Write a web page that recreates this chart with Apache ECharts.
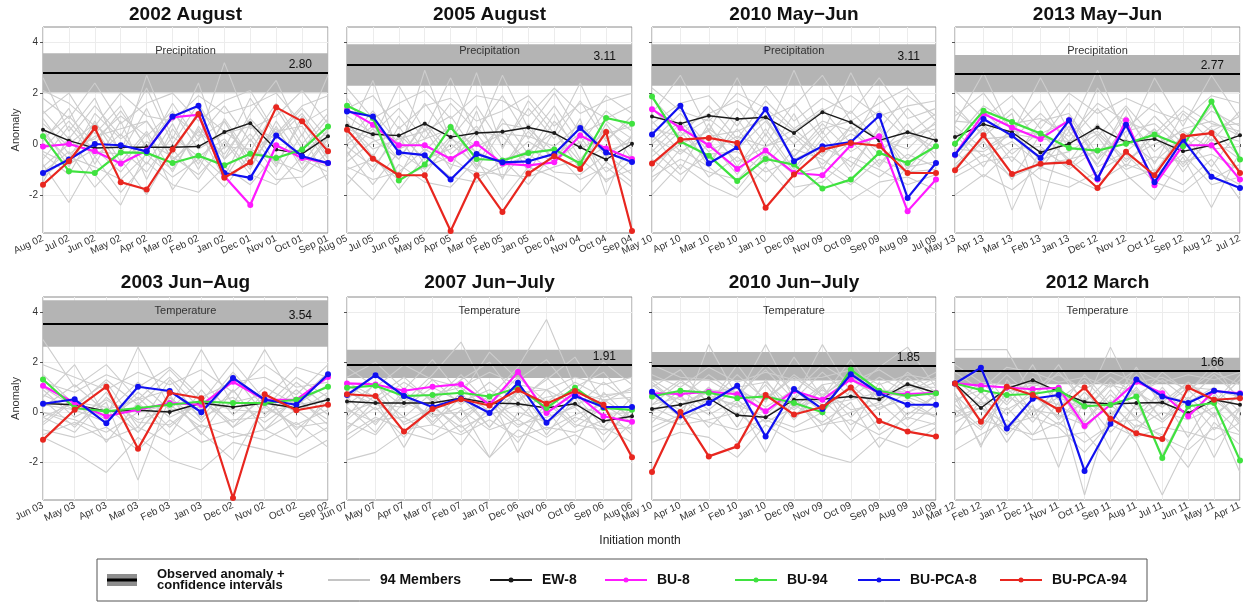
<!DOCTYPE html>
<html>
<head>
<meta charset="utf-8">
<script src="https://cdn.jsdelivr.net/npm/echarts@6/dist/echarts.min.js"></script>
<style>
  html, body { margin: 0; padding: 0; background: #ffffff; }
  #chart { width: 1253px; height: 605px; }
</style>
</head>
<body>
<div id="chart"></div>
<script>
// ---- data ----
const panelTitles = ['2002 August', '2005 August', '2010 May\u2212Jun', '2013 May\u2212Jun',
                     '2003 Jun\u2212Aug', '2007 Jun\u2212July', '2010 Jun\u2212July', '2012 March'];
const variableNames = ['Precipitation', 'Precipitation', 'Precipitation', 'Precipitation',
                       'Temperature', 'Temperature', 'Temperature', 'Temperature'];
const initMonths = [
  ['Aug 02','Jul 02','Jun 02','May 02','Apr 02','Mar 02','Feb 02','Jan 02','Dec 01','Nov 01','Oct 01','Sep 01'],
  ['Aug 05','Jul 05','Jun 05','May 05','Apr 05','Mar 05','Feb 05','Jan 05','Dec 04','Nov 04','Oct 04','Sep 04'],
  ['May 10','Apr 10','Mar 10','Feb 10','Jan 10','Dec 09','Nov 09','Oct 09','Sep 09','Aug 09','Jul 09'],
  ['May 13','Apr 13','Mar 13','Feb 13','Jan 13','Dec 12','Nov 12','Oct 12','Sep 12','Aug 12','Jul 12'],
  ['Jun 03','May 03','Apr 03','Mar 03','Feb 03','Jan 03','Dec 02','Nov 02','Oct 02','Sep 02'],
  ['Jun 07','May 07','Apr 07','Mar 07','Feb 07','Jan 07','Dec 06','Nov 06','Oct 06','Sep 06','Aug 06'],
  ['May 10','Apr 10','Mar 10','Feb 10','Jan 10','Dec 09','Nov 09','Oct 09','Sep 09','Aug 09','Jul 09'],
  ['Mar 12','Feb 12','Jan 12','Dec 11','Nov 11','Oct 11','Sep 11','Aug 11','Jul 11','Jun 11','May 11','Apr 11']
];
const yTickValues = [-2, 0, 2, 4];

// observed anomaly and its confidence interval
const observed = [2.80, 3.11, 3.11, 2.77, 3.54, 1.91, 1.85, 1.66];
const ciLow    = [2.02, 2.29, 2.29, 2.03, 2.61, 1.37, 1.27, 1.12];
const ciHigh   = [3.57, 3.92, 3.92, 3.50, 4.47, 2.50, 2.41, 2.18];

const ew8 = [
  [0.56,0.13,-0.16,-0.13,-0.13,-0.13,-0.10,0.47,0.82,-0.22,-0.39,0.30],
  [0.72,0.38,0.33,0.80,0.27,0.43,0.48,0.65,0.43,-0.13,-0.61,0.01],
  [1.08,0.80,1.11,0.98,1.05,0.43,1.25,0.85,0.14,0.46,0.14],
  [0.27,0.78,0.46,-0.33,0.01,0.65,0.07,0.20,-0.29,-0.05,0.34],
  [0.35,0.30,0.04,0.08,0.01,0.37,0.21,0.37,0.17,0.50],
  [0.43,0.37,0.37,0.37,0.56,0.37,0.34,0.17,0.34,-0.35,-0.16],
  [0.13,0.30,0.56,-0.12,-0.20,0.50,0.52,0.63,0.52,1.12,0.78],
  [1.15,0.17,0.95,1.28,0.82,0.41,0.33,0.37,0.39,-0.03,0.50,0.30]
];
const bu8 = [
  [-0.10,0.00,-0.29,-0.77,-0.26,1.05,1.15,-1.27,-2.40,-0.05,-0.55,-0.75],
  [1.35,0.76,-0.05,-0.05,-0.59,0.01,-0.77,-0.84,-0.72,0.33,-0.18,-0.59],
  [1.37,0.63,-0.05,-0.98,-0.26,-1.14,-1.23,-0.05,0.30,-2.64,-1.40],
  [-0.42,1.19,0.65,0.20,0.93,-1.40,0.93,-1.62,-0.05,-0.05,-1.40],
  [1.06,0.37,-0.16,0.10,0.37,0.30,1.22,0.50,0.50,1.41],
  [1.15,1.11,0.86,1.02,1.12,0.30,1.61,-0.03,0.78,-0.16,-0.38],
  [0.76,0.73,0.82,0.72,0.04,0.86,0.50,1.31,0.78,0.73,0.78],
  [1.15,1.06,0.99,0.92,0.98,-0.55,0.30,1.22,0.76,-0.16,0.85,0.76]
];
const bu94 = [
  [0.30,-1.07,-1.14,-0.33,-0.35,-0.75,-0.46,-0.84,-0.38,-0.55,-0.22,0.69],
  [1.50,1.02,-1.44,-0.81,0.67,-0.59,-0.65,-0.35,-0.22,-0.77,1.02,0.80],
  [1.87,0.10,-0.46,-1.46,-0.59,-0.81,-1.75,-1.40,-0.35,-0.75,-0.09],
  [0.01,1.31,0.86,0.41,-0.16,-0.26,0.01,0.37,-0.09,1.67,-0.61],
  [1.31,0.17,0.04,0.17,0.30,0.43,0.37,0.37,0.50,1.02],
  [0.98,1.06,0.65,0.69,0.78,0.63,0.98,0.17,0.98,0.17,0.10],
  [0.63,0.86,0.78,0.56,0.63,0.37,0.00,1.70,0.86,0.65,0.76],
  [1.15,0.89,0.69,0.73,0.89,0.24,0.30,0.63,-1.82,0.24,0.37,-1.92]
];
const buPca8 = [
  [-1.14,-0.61,0.00,-0.05,-0.29,1.08,1.50,-1.14,-1.33,0.33,-0.48,-0.75],
  [1.28,1.08,-0.33,-0.44,-1.40,-0.39,-0.72,-0.68,-0.39,0.63,-0.33,-0.71],
  [0.37,1.50,-0.77,-0.13,1.37,-0.68,-0.09,0.07,1.11,-2.12,-0.75],
  [-0.42,0.98,0.33,-0.55,0.93,-1.36,0.76,-1.50,0.17,-1.29,-1.73],
  [0.34,0.52,-0.44,1.02,0.85,0.00,1.37,0.50,0.30,1.52],
  [0.69,1.48,0.65,0.21,0.56,-0.03,1.18,-0.42,0.65,0.21,0.21],
  [0.82,-0.13,0.37,1.06,-0.97,0.93,0.13,1.52,0.76,0.30,0.30],
  [1.15,1.78,-0.65,0.54,0.69,-2.34,-0.46,1.31,0.63,0.37,0.86,0.73]
];
const buPca94 = [
  [-1.60,-0.68,0.63,-1.50,-1.79,-0.22,1.18,-1.33,-0.72,1.44,0.89,-0.29],
  [0.56,-0.58,-1.23,-1.23,-3.42,-1.23,-2.67,-1.16,-0.48,-0.98,0.47,-3.42],
  [-0.77,0.17,0.24,0.04,-2.51,-1.20,-0.22,0.04,-0.07,-1.14,-1.14],
  [-1.03,0.34,-1.18,-0.78,-0.72,-1.73,-0.31,-1.23,0.30,0.43,-1.14],
  [-1.10,0.10,1.02,-1.46,0.78,0.56,-3.42,0.72,0.08,0.30],
  [0.72,0.65,-0.77,0.13,0.52,0.27,0.89,0.34,0.85,0.30,-1.79],
  [-2.38,0.01,-1.76,-1.36,0.69,-0.09,0.21,0.99,-0.35,-0.77,-0.97],
  [1.15,-0.38,1.02,0.69,0.10,0.99,-0.26,-0.84,-1.07,0.99,0.50,0.56]
];

// individual ensemble members (a subset of the 94 runs)
const membersP1 = [
  [2.6,0.5,1.8,-0.4,2.7,0.2,2.4,-0.6,1.2,2.5,0.3,2.7],
  [1.2,2.0,0.4,1.5,-0.2,1.6,0.1,3.2,0.6,1.1,2.1,0.8],
  [-0.8,-2.3,-0.5,-1.9,-0.7,-1.6,-1.9,-0.9,-1.6,-0.4,-1.7,-1.2],
  [0.4,-0.6,1.2,0.2,0.9,-0.4,1.3,0.5,-0.3,1.4,-0.2,1.0],
  [-1.5,0.3,-1.2,-2.4,-0.3,-1.0,0.6,-1.4,0.2,-1.2,0.4,-1.5],
  [1.8,1.0,2.4,0.8,1.6,2.0,0.9,1.7,2.1,0.4,1.5,1.9],
  [0.1,1.4,-0.8,0.9,-1.4,0.6,-0.8,0.9,-0.9,0.7,-1.0,0.3],
  [-0.4,-1.2,0.6,-0.9,0.4,-1.8,-0.4,-1.3,0.8,-0.8,0.9,-0.6],
  [2.1,1.6,0.7,2.0,1.1,0.9,1.9,1.2,1.5,2.0,0.8,1.4],
  [-1.1,-0.3,-1.7,-0.6,-2.0,-0.2,-1.4,0.1,-1.2,-1.6,-0.5,-0.9],
  [0.8,-0.1,0.2,1.1,0.3,1.3,-0.2,0.4,0.7,0.2,1.2,-0.2],
  [-0.2,0.9,-0.3,-0.4,1.4,-0.7,0.5,-0.4,1.0,-0.1,-0.4,0.5],
  [0.6,-0.9,0.9,-0.7,0.5,-1.1,0.7,-0.6,0.4,-0.9,1.1,-0.5],
  [-0.6,0.7,-0.5,0.4,-0.8,0.8,-1.0,1.0,-0.5,0.6,-0.8,0.6],
  [1.3,0.2,1.5,0.3,2.2,0.0,1.6,-0.2,1.8,0.3,1.4,0.2],
  [-1.3,-0.5,-0.9,-1.4,-0.4,-1.3,-0.6,-1.7,-0.4,-1.4,-1.3,-0.3],
  [0.2,1.1,0.0,1.3,-0.1,1.2,0.3,1.5,0.1,1.6,0.0,1.2],
  [-0.9,0.0,0.8,-0.2,-1.1,0.3,-0.5,0.2,-1.0,0.9,-0.6,-1.1],
  [1.0,-0.4,0.3,0.6,0.9,-0.6,0.2,0.9,-0.7,0.5,0.7,-0.8],
  [-0.3,-0.8,-0.2,-1.1,0.1,-0.5,-1.2,-0.1,-0.2,-0.7,-1.1,0.2]
];
const membersP2 = [
  [1.8,0.2,2.3,0.5,2.6,0.3,2.7,0.6,2.0,0.4,1.9,1.2],
  [0.3,2.5,-0.4,2.9,0.1,2.8,-0.2,1.7,0.4,2.4,0.2,0.9],
  [-1.2,-2.2,-0.8,-1.5,-1.7,-0.6,-2.2,-0.9,-1.3,-1.9,-0.7,-1.5],
  [0.9,-0.5,1.1,-0.3,0.8,-0.9,1.0,-0.4,1.2,-0.6,0.6,-0.2],
  [-0.5,1.1,-1.3,0.6,-1.0,1.3,-1.4,0.8,-0.8,1.0,-2.0,0.4],
  [1.4,1.9,0.6,1.5,1.8,0.9,1.3,1.9,0.7,1.6,1.0,1.5],
  [-0.1,-0.9,0.3,-1.2,0.2,-0.3,-0.8,0.1,-0.5,0.3,-1.1,-0.4],
  [0.6,0.2,-0.6,0.9,-0.4,0.5,0.3,-0.7,0.9,-0.2,0.4,0.7],
  [-1.6,-0.4,-1.8,-0.5,-1.3,-1.5,-0.6,-1.6,-0.3,-1.4,-0.9,-1.7],
  [2.2,1.0,1.6,2.1,1.0,1.9,1.7,1.1,2.2,1.2,1.7,2.0],
  [0.0,0.7,-0.2,0.2,0.6,-0.1,0.4,0.3,-0.1,0.8,-0.3,0.1],
  [-0.9,-1.4,-1.1,-0.2,-0.8,-1.1,-1.2,-1.3,-0.9,-0.6,-1.4,-1.0],
  [0.4,-1.1,0.7,-0.8,0.3,-1.0,0.6,-1.1,0.5,-1.0,0.8,-0.6],
  [-0.4,0.6,-0.6,0.8,-0.7,0.4,-0.9,0.5,-0.6,0.7,-0.5,0.3],
  [1.1,0.4,1.4,0.2,1.6,0.5,1.9,0.2,1.5,0.0,1.3,0.5],
  [-1.0,-0.6,-1.4,-0.9,-0.5,-1.3,-0.9,-0.4,-1.1,-1.2,-0.4,-1.2],
  [0.1,1.3,0.0,1.6,0.2,1.5,-0.1,1.4,0.2,1.7,0.1,1.1],
  [-0.7,0.1,0.4,-0.6,-0.2,0.7,-0.6,-0.3,0.5,-0.7,-0.1,-0.8],
  [0.8,-0.2,0.2,0.5,1.1,-0.4,0.8,0.6,-0.3,0.4,0.9,0.2],
  [-0.3,-1.6,-0.3,-1.0,0.0,-0.8,-1.3,-0.2,-0.7,0.1,-1.5,-0.6]
];
const membersP3 = [
  [1.2,2.7,0.5,2.6,0.3,2.9,0.4,2.8,0.6,1.9,1.1],
  [-0.3,0.8,-0.9,1.0,-0.6,1.2,-1.0,0.7,-0.8,0.5,-0.2],
  [-2.0,-0.8,-1.6,-2.1,-0.9,-2.1,-1.2,-2.2,-1.5,-1.3,-1.8],
  [0.8,1.6,1.9,0.7,2.3,0.9,1.8,1.2,2.6,1.0,1.4],
  [0.3,-0.4,0.6,-0.2,0.9,-0.5,0.8,-0.3,0.4,-0.6,0.5],
  [-1.1,0.2,-1.3,-0.5,-1.5,-0.2,-0.6,-1.4,-2.1,-0.9,-0.7],
  [1.8,0.6,1.2,1.7,1.0,1.5,2.7,0.9,1.6,2.2,0.9],
  [-0.6,-1.5,0.1,-1.2,0.4,-1.1,0.2,-0.9,0.6,-1.2,0.0],
  [0.0,0.9,-0.3,0.3,-0.1,0.6,-0.4,0.4,-0.2,0.3,0.6],
  [2.2,1.3,0.9,2.0,1.4,0.5,1.3,1.9,1.1,1.5,1.7],
  [-1.5,-0.2,-0.9,-1.8,-0.4,-1.7,-1.5,-0.5,-1.0,-1.6,-1.2],
  [0.6,0.3,1.0,0.1,1.1,0.0,0.9,0.5,1.3,0.2,0.8],
  [0.4,-1.0,0.8,-0.9,0.6,-1.0,0.5,-1.1,0.7,-1.0,0.3],
  [-0.5,0.5,-0.7,0.6,-0.8,0.4,-0.5,0.7,-0.4,0.8,-0.6],
  [1.4,0.3,1.5,0.2,1.7,0.6,1.4,0.0,1.9,0.4,1.2],
  [-1.3,-0.6,-1.1,-1.4,-0.3,-1.2,-0.9,-1.6,-0.6,-1.1,-1.0],
  [0.1,1.2,-0.1,1.4,0.0,1.6,0.2,1.3,0.1,1.4,0.2],
  [-0.8,0.0,0.5,-0.7,-0.1,0.3,-0.8,0.1,-0.9,0.5,-0.4],
  [0.9,-0.3,0.3,0.5,1.0,-0.5,0.6,0.9,0.2,-0.2,0.9],
  [-0.2,-1.2,-0.4,-0.3,-1.1,-0.6,-0.1,-0.7,-1.3,-0.4,-0.9]
];
const membersP4 = [
  [0.8,2.8,0.4,2.6,0.5,2.9,0.2,2.6,0.7,2.7,1.0],
  [-0.4,0.6,-2.6,-0.2,-0.9,0.3,-1.2,-2.2,-0.5,-2.5,-0.3],
  [1.5,0.3,1.2,-2.6,1.1,-0.6,1.4,-0.8,1.2,0.1,1.3],
  [-1.3,-0.7,-0.5,-1.4,-1.7,-1.1,-0.4,-1.5,-1.9,-1.0,-1.6],
  [0.2,1.5,0.8,1.0,0.3,1.6,0.9,0.4,1.5,0.8,0.5],
  [2.1,1.0,1.9,0.6,2.0,1.2,1.8,1.3,0.9,1.9,1.6],
  [-0.9,0.1,-1.4,0.4,-0.6,-0.3,0.2,-0.7,0.3,-1.4,-0.8],
  [0.5,-0.5,0.1,-0.8,0.7,-0.9,-0.3,0.6,-1.1,0.4,0.1],
  [-2.0,-1.2,-1.8,-0.9,-1.3,-1.8,-1.4,-1.0,-1.6,-0.6,-2.2],
  [1.1,2.0,0.5,1.7,-0.2,2.2,0.6,1.6,0.2,1.3,0.7],
  [-0.2,-0.3,0.4,0.2,0.1,0.5,-0.6,0.0,0.5,-0.2,-0.1],
  [0.9,0.8,-0.7,0.9,1.2,-0.4,1.1,-0.3,0.6,0.9,0.3],
  [0.4,-0.9,0.7,-1.0,0.5,-0.8,0.8,-1.1,0.4,-0.9,0.6],
  [-0.6,0.7,-0.4,0.5,-0.7,0.8,-0.9,0.6,-0.8,0.6,-0.5],
  [1.3,0.4,1.4,0.1,1.6,0.3,1.5,0.2,1.3,0.5,1.1],
  [-1.1,-0.4,-1.3,-0.8,-0.6,-1.5,-0.8,-1.2,-0.4,-1.6,-1.3],
  [0.0,1.3,0.2,1.2,0.1,1.4,-0.1,1.1,0.0,1.5,0.3],
  [-0.8,0.2,0.3,-0.6,-0.3,0.4,-0.7,0.3,-0.9,0.2,-0.6],
  [0.7,-0.2,0.5,0.4,0.9,-0.6,0.5,0.8,-0.2,0.7,0.8],
  [-0.3,-1.3,-0.2,-0.1,-1.0,-0.2,-1.0,-0.5,-0.7,-0.4,-1.0]
];
const membersP5 = [
  [2.9,1.0,1.9,0.5,1.7,0.4,2.0,0.5,1.8,1.4],
  [0.6,1.9,-0.2,2.6,0.2,2.5,0.3,2.5,0.4,1.6],
  [-1.0,-1.6,-2.4,-1.0,-1.9,-2.3,-1.2,-1.5,-1.8,-1.1],
  [1.5,0.3,1.2,-0.6,1.3,-0.3,1.5,-0.1,1.2,0.2],
  [0.0,-0.5,0.4,-2.7,0.6,-0.8,-1.9,0.3,-0.6,-0.4],
  [1.9,1.4,0.9,1.6,1.1,1.7,0.8,1.9,1.0,1.2],
  [-0.4,0.6,-1.2,0.4,-0.9,0.9,-0.6,0.8,-1.0,0.7],
  [0.9,-0.2,0.5,-0.3,0.1,0.2,0.6,-0.4,0.5,-0.3],
  [-0.7,-1.0,-0.6,-1.5,-0.3,-1.2,-0.8,-1.1,-0.4,-1.4],
  [1.2,0.8,1.5,1.0,1.8,0.6,1.2,1.4,0.7,1.9],
  [0.3,0.1,-0.4,0.8,-0.2,0.4,0.1,0.0,0.3,0.5],
  [-0.2,0.4,0.2,-0.8,0.6,-0.4,0.9,-0.7,0.1,-0.8],
  [0.5,-0.6,0.8,-0.8,0.7,-0.9,0.9,-0.7,0.6,-0.5],
  [-0.5,0.5,-0.3,0.6,-0.6,0.5,-0.4,0.6,-0.7,0.4],
  [1.0,0.2,1.3,0.3,1.4,0.1,1.6,0.2,1.4,0.6],
  [-0.9,-0.4,-1.1,-0.6,-1.2,-0.5,-1.0,-0.7,-1.3,-0.6],
  [0.2,1.1,0.0,1.2,0.1,1.3,-0.1,1.0,0.3,1.1],
  [-0.2,-0.8,0.6,-0.4,-0.5,0.5,-0.6,0.2,-0.5,0.1],
  [0.7,0.1,0.1,0.5,0.9,-0.2,0.4,0.7,0.0,0.8],
  [0.0,-0.3,-0.8,0.0,0.3,-0.6,-0.3,-0.2,0.9,-0.1]
];
const membersP6 = [
  [-1.9,-1.6,-0.8,-1.1,-0.5,-1.8,-0.7,-1.3,-0.9,-1.5,-0.4],
  [0.5,1.6,0.4,1.5,2.8,0.6,1.8,3.7,1.0,1.6,0.3],
  [1.2,0.6,1.4,0.4,1.3,2.0,0.5,1.3,2.2,0.4,1.0],
  [-0.6,0.2,-1.0,0.3,-0.8,0.1,-1.2,0.4,-0.6,0.2,-0.9],
  [0.2,-0.8,0.8,-0.5,0.6,-0.6,0.8,-0.9,0.6,-1.2,0.3],
  [1.8,1.0,1.9,1.3,1.0,1.6,1.1,0.9,1.4,1.1,1.4],
  [-1.1,-0.3,-0.2,-0.9,0.1,-0.7,-0.3,-1.0,-0.2,-0.6,-1.2],
  [0.8,0.3,0.2,1.0,0.4,0.9,0.2,0.6,0.8,0.5,0.6],
  [-0.2,1.2,-0.5,0.0,-1.3,0.3,-0.6,0.1,-1.3,0.8,-0.3],
  [1.4,2.0,0.9,2.1,0.7,2.4,1.3,2.1,0.7,2.0,1.1],
  [0.1,-0.4,0.6,-0.2,0.2,-1.8,0.0,-0.4,0.3,-0.1,0.0],
  [-0.7,0.5,-1.4,0.6,-0.3,0.7,-1.6,0.5,-0.5,-0.7,-0.6],
  [0.6,-0.5,0.9,-0.4,0.8,-0.6,0.9,-0.5,0.7,-0.6,0.6],
  [-0.3,0.7,-0.2,0.8,-0.4,0.6,-0.3,0.9,-0.4,0.5,-0.2],
  [1.1,0.4,1.2,0.5,1.5,0.3,1.4,0.4,1.2,0.6,0.9],
  [-0.9,-0.2,-0.7,-0.5,-0.9,-0.3,-1.0,-0.6,-0.8,-0.3,-0.7],
  [0.3,1.1,0.2,1.3,0.3,1.2,0.4,1.4,0.2,1.2,0.4],
  [-0.4,-0.9,0.4,-0.1,0.0,0.5,-0.5,-0.2,0.2,-0.9,0.1],
  [0.9,0.1,0.6,0.7,1.0,0.0,0.8,0.9,0.3,0.7,0.8],
  [0.0,0.4,-0.4,0.2,-0.6,-0.1,0.3,-0.7,-0.1,0.3,-0.4]
];
const membersP7 = [
  [0.2,-0.3,2.7,0.6,2.7,0.5,2.7,0.8,1.8,2.6,1.0],
  [1.0,1.7,0.3,1.9,0.4,2.2,0.6,2.1,0.5,1.6,0.8],
  [-1.2,-0.8,-1.0,-1.8,-0.5,-1.2,-1.7,-2.0,-1.0,-1.4,-0.6],
  [0.6,0.1,1.0,-0.6,1.3,-0.2,1.1,-0.8,1.2,-0.3,0.7],
  [1.5,1.0,1.8,1.2,1.6,1.3,1.4,1.7,1.1,1.5,1.3],
  [-0.4,0.7,-0.6,0.4,-1.6,0.6,-0.8,0.9,-0.7,0.3,-0.2],
  [0.9,0.5,0.4,1.0,0.2,0.9,0.3,0.5,0.8,0.6,0.2],
  [-0.8,-0.2,0.1,-1.2,-0.2,-0.6,0.0,-1.1,-0.3,-0.8,-0.4],
  [1.9,1.4,1.3,0.6,1.9,0.8,1.9,1.2,1.7,1.0,1.6],
  [0.3,1.2,0.7,0.2,0.8,0.1,0.9,0.1,0.3,1.2,0.5],
  [-0.1,-0.5,-0.3,0.0,-0.9,0.3,-0.4,0.4,-1.4,0.0,-0.1],
  [1.2,0.3,0.9,0.8,0.5,1.5,0.7,1.4,0.9,0.8,1.4],
  [0.7,-0.2,1.0,-0.1,1.1,-0.3,1.0,-0.2,0.9,-0.1,0.7],
  [0.0,0.9,0.1,1.0,-0.1,0.9,0.0,1.1,0.1,0.8,0.2],
  [1.3,0.6,1.5,0.7,1.7,0.5,1.6,0.6,1.4,0.8,1.2],
  [-0.6,-0.1,-0.4,-0.7,-0.3,-0.8,-0.5,-0.3,-0.9,-0.2,-0.5],
  [0.5,1.3,0.4,1.5,0.5,1.4,0.6,1.6,0.4,1.4,0.6],
  [-0.2,-0.5,0.6,0.3,-0.2,0.6,-0.5,0.0,0.4,-0.6,0.3],
  [1.1,0.3,0.8,1.0,1.2,0.2,1.1,1.3,0.6,1.0,1.0],
  [0.3,0.6,-0.1,0.5,-0.4,0.2,0.5,-0.5,0.2,0.5,-0.2]
];
const membersP8 = [
  [2.5,2.5,2.5,0.6,1.9,0.3,2.6,0.5,1.6,0.8,1.9,0.4],
  [0.6,-1.3,0.2,-0.9,0.4,-3.3,0.1,-1.2,-3.3,-1.2,0.0,-2.4],
  [1.6,0.9,1.8,1.6,1.2,1.4,1.0,1.7,1.2,1.5,1.3,1.6],
  [-0.9,0.5,-1.2,0.3,-2.2,0.6,-1.5,0.4,-1.7,0.3,-1.8,0.2],
  [0.3,-0.6,0.8,-0.4,0.9,-0.7,0.5,-0.8,0.6,-1.0,0.7,-0.5],
  [1.1,1.7,0.4,1.9,0.1,1.5,0.3,1.8,0.2,1.2,0.4,1.5],
  [-0.2,0.2,-0.5,-0.2,-0.6,-1.6,-0.4,-0.3,-1.0,-1.5,-0.6,-0.9],
  [0.8,-1.4,1.3,0.0,0.6,0.1,1.2,0.1,0.7,0.4,1.0,0.0],
  [-1.5,-0.9,-0.3,-1.1,-1.0,-0.8,-2.0,-0.5,-0.9,-2.2,-0.4,-1.3],
  [1.9,1.2,1.1,1.0,1.5,0.9,1.6,1.2,1.4,0.9,1.6,1.1],
  [0.0,0.4,0.1,0.7,-0.2,0.4,-0.1,0.9,-0.3,0.6,-0.2,0.8],
  [0.5,0.9,-0.8,0.6,0.3,-0.4,0.7,-0.2,0.4,-0.1,0.5,-0.3],
  [0.7,-0.3,1.0,-0.2,1.1,-0.4,0.9,-0.3,1.0,-0.2,0.8,-0.4],
  [-0.2,0.8,-0.1,0.9,-0.3,0.8,-0.2,1.0,-0.3,0.9,-0.1,0.7],
  [1.3,0.5,1.5,0.6,1.6,0.4,1.4,0.7,1.3,0.5,1.5,0.6],
  [-0.8,-0.3,-0.6,-0.9,-0.4,-1.2,-0.5,-1.0,-0.6,-0.8,-1.1,-0.4],
  [0.4,1.2,0.3,1.4,0.5,1.3,0.2,1.5,0.4,1.2,0.3,1.3],
  [0.1,-0.7,0.6,0.2,-0.5,0.5,-0.8,0.3,-0.4,0.5,-0.7,0.2],
  [1.0,0.3,0.8,1.1,0.9,0.1,1.1,0.8,0.2,1.0,0.9,0.6],
  [-0.4,0.2,-0.9,0.1,-0.1,-0.5,0.3,-0.6,0.0,-0.3,0.2,-0.8]
];
const members = [membersP1, membersP2, membersP3, membersP4, membersP5, membersP6, membersP7, membersP8];

// ---- styling ----
const FONT = "'Liberation Sans', Arial, sans-serif";
const schemeNames = ['EW-8', 'BU-8', 'BU-94', 'BU-PCA-8', 'BU-PCA-94'];
const schemeData = [ew8, bu8, bu94, buPca8, buPca94];
const schemeColors = ['#1a1a1a', '#ff1aff', '#3fe23f', '#1010f0', '#e8261f'];
const memberColor = '#cdcdcd';
const bandColor = '#b4b4b4';

const colLeft = [43, 347, 652, 955];
const colWidth = [285, 285, 284, 285];
const rowTop = [27, 297];
const rowHeight = [206, 203];
const titleY = [15, 283];
const varLabelY = [51, 311];

const grid = [], xAxis = [], yAxis = [], series = [], graphic = [];

for (let i = 0; i < 8; i++) {
  const r = Math.floor(i / 4), c = i % 4;
  const left = colLeft[c], top = rowTop[r], w = colWidth[c], h = rowHeight[r];
  grid.push({ left: left, top: top, width: w, height: h, show: true,
              borderColor: '#8a8a8a', borderWidth: 1, backgroundColor: '#ffffff' });
  xAxis.push({
    type: 'category', gridIndex: i, data: initMonths[i], boundaryGap: false,
    axisLine: { show: false },
    axisTick: { show: true, length: 3, lineStyle: { color: '#555' } },
    axisLabel: { interval: 0, rotate: 25, fontSize: 10, color: '#333', margin: 5, fontFamily: FONT },
    splitLine: { show: true, lineStyle: { color: '#ececec', width: 1 } }
  });
  const firstCol = c === 0;
  yAxis.push({
    type: 'value', gridIndex: i, min: -3.5, max: 4.6, splitNumber: 4,
    axisLine: { show: false },
    axisTick: { show: true, length: 3, customValues: yTickValues, lineStyle: { color: '#555' } },
    axisLabel: { show: firstCol, customValues: yTickValues, fontSize: 10, color: '#333', margin: 5, fontFamily: FONT },
    splitLine: { show: true, lineStyle: { color: '#ececec', width: 1 } },
    name: firstCol ? 'Anomaly' : '', nameLocation: 'middle', nameGap: 22,
    nameTextStyle: { fontSize: 11, color: '#333', fontFamily: FONT }
  });

  // confidence band: area between ciLow and ciHigh over the whole period
  series.push({
    type: 'line', xAxisIndex: i, yAxisIndex: i, z: 1, silent: true,
    data: initMonths[i].map(() => ciHigh[i]),
    showSymbol: false, lineStyle: { width: 0, opacity: 0 },
    areaStyle: { origin: ciLow[i], color: bandColor, opacity: 1 }
  });
  // ensemble members
  members[i].forEach(run => {
    series.push({
      type: 'line', xAxisIndex: i, yAxisIndex: i, data: run, z: 3, silent: true,
      symbol: 'none', lineStyle: { color: memberColor, width: 1.1 }
    });
  });
  // observed anomaly line with its value
  series.push({
    type: 'line', xAxisIndex: i, yAxisIndex: i, z: 4, silent: true,
    data: initMonths[i].map(() => observed[i]),
    showSymbol: false, lineStyle: { opacity: 0 },
    markLine: {
      silent: true, symbol: 'none', data: [{ yAxis: observed[i] }],
      lineStyle: { color: '#000', width: 2.2, type: 'solid' },
      label: { position: 'insideEndTop', formatter: p => Number(p.value).toFixed(2),
               color: '#111', fontSize: 12, fontFamily: FONT, distance: [16, 2] }
    }
  });
  // post-processing schemes
  schemeData.forEach((set, k) => {
    const isEw = k === 0;
    series.push({
      name: schemeNames[k], type: 'line', xAxisIndex: i, yAxisIndex: i, data: set[i],
      z: 6 + k, silent: true, symbol: 'circle', symbolSize: isEw ? 4 : 6,
      itemStyle: { color: schemeColors[k] },
      lineStyle: { color: schemeColors[k], width: isEw ? 1.4 : 2.2 }
    });
  });

  graphic.push({
    type: 'text', x: left + w / 2, y: titleY[r], silent: true,
    style: { text: panelTitles[i], font: 'bold 19px ' + FONT, fill: '#111',
             textAlign: 'center', textVerticalAlign: 'middle' }
  });
  graphic.push({
    type: 'text', x: left + w / 2, y: varLabelY[r], silent: true, z: 20,
    style: { text: variableNames[i], font: '11px ' + FONT, fill: '#333',
             textAlign: 'center', textVerticalAlign: 'middle' }
  });
}

// x-axis caption
graphic.push({
  type: 'text', x: 640, y: 541, silent: true,
  style: { text: 'Initiation month', font: '12px ' + FONT, fill: '#222',
           textAlign: 'center', textVerticalAlign: 'middle' }
});

// legend
const legendBox = { x: 97, y: 559, w: 1050, h: 42 };
const legendMidY = legendBox.y + legendBox.h / 2;
graphic.push({
  type: 'rect', silent: true,
  shape: { x: legendBox.x, y: legendBox.y, width: legendBox.w, height: legendBox.h },
  style: { fill: '#fff', stroke: '#555', lineWidth: 1 }
});
graphic.push({
  type: 'rect', silent: true,
  shape: { x: 107, y: legendMidY - 6, width: 30, height: 12 },
  style: { fill: '#8e8e8e' }
});
graphic.push({
  type: 'rect', silent: true,
  shape: { x: 107, y: legendMidY - 1.5, width: 30, height: 3 },
  style: { fill: '#000' }
});
graphic.push({
  type: 'text', x: 157, y: legendMidY, silent: true,
  style: { text: 'Observed anomaly +\nconfidence intervals', font: 'bold 13px ' + FONT,
           lineHeight: 11, fill: '#111', textAlign: 'left', textVerticalAlign: 'middle' }
});
const legendEntries = [
  { name: '94 Members', color: '#c4c4c4', dot: false, x: 328, width: 2 },
  { name: schemeNames[0], color: schemeColors[0], dot: true, x: 490, width: 2 },
  { name: schemeNames[1], color: schemeColors[1], dot: true, x: 605, width: 2 },
  { name: schemeNames[2], color: schemeColors[2], dot: true, x: 735, width: 2 },
  { name: schemeNames[3], color: schemeColors[3], dot: true, x: 858, width: 2 },
  { name: schemeNames[4], color: schemeColors[4], dot: true, x: 1000, width: 2 }
];
legendEntries.forEach(e => {
  graphic.push({
    type: 'line', silent: true,
    shape: { x1: e.x, y1: legendMidY, x2: e.x + 42, y2: legendMidY },
    style: { stroke: e.color, lineWidth: e.width }
  });
  if (e.dot) {
    graphic.push({
      type: 'circle', silent: true,
      shape: { cx: e.x + 21, cy: legendMidY, r: 2.5 },
      style: { fill: e.color }
    });
  }
  graphic.push({
    type: 'text', x: e.x + 52, y: legendMidY, silent: true,
    style: { text: e.name, font: 'bold 14px ' + FONT, fill: '#111',
             textAlign: 'left', textVerticalAlign: 'middle' }
  });
});

const chart = echarts.init(document.getElementById('chart'), null, { renderer: 'canvas' });
chart.setOption({
  animation: false,
  backgroundColor: '#ffffff',
  textStyle: { fontFamily: FONT },
  grid: grid,
  xAxis: xAxis,
  yAxis: yAxis,
  series: series,
  graphic: graphic
});
</script>
</body>
</html>
